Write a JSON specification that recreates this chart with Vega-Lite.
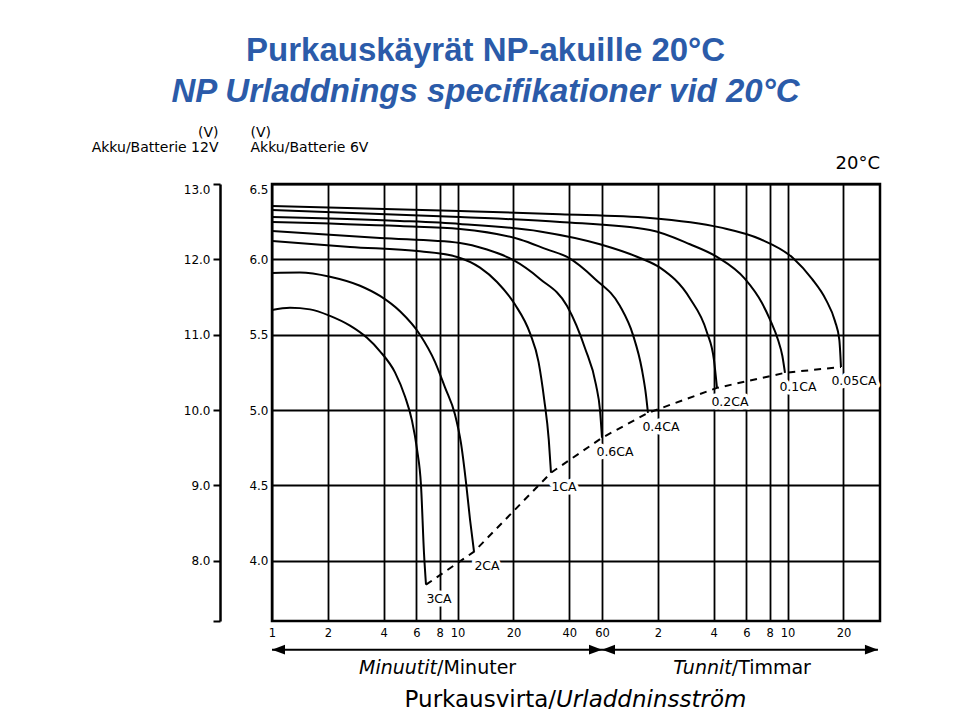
{
  "$schema": "https://vega.github.io/schema/vega-lite/v6.json",
  "width": 608,
  "height": 437,
  "autosize": {"type": "none"},
  "padding": {"left": 272, "top": 184, "right": 87, "bottom": 102},
  "background": "white",
  "title": {
    "text": "Purkauskäyrät NP-akuille 20°C",
    "subtitle": "NP Urladdnings specifikationer vid 20°C",
    "anchor": "middle",
    "frame": "bounds",
    "font": "Liberation Sans",
    "fontSize": 33,
    "fontWeight": "bold",
    "color": "#2b5ba9",
    "subtitleFont": "Liberation Sans",
    "subtitleFontSize": 33,
    "subtitleFontWeight": "bold",
    "subtitleFontStyle": "italic",
    "subtitleColor": "#2b5ba9",
    "subtitlePadding": 8,
    "offset": 16
  },
  "datasets": {
    "curves": [
      {"curve": "0.05CA", "t": 1, "v": 6.354}, {"curve": "0.05CA", "t": 10.3, "v": 6.321}, {"curve": "0.05CA", "t": 35.6, "v": 6.3}, {"curve": "0.05CA", "t": 108.8, "v": 6.275}, {"curve": "0.05CA", "t": 259.3, "v": 6.212}, {"curve": "0.05CA", "t": 425.9, "v": 6.135}, {"curve": "0.05CA", "t": 641.4, "v": 6.009}, {"curve": "0.05CA", "t": 811.9, "v": 5.87}, {"curve": "0.05CA", "t": 965.9, "v": 5.731}, {"curve": "0.05CA", "t": 1080, "v": 5.59}, {"curve": "0.05CA", "t": 1140, "v": 5.466}, {"curve": "0.05CA", "t": 1163.4, "v": 5.286},
      {"curve": "0.1CA", "t": 1, "v": 6.328}, {"curve": "0.1CA", "t": 10.3, "v": 6.281}, {"curve": "0.1CA", "t": 35.6, "v": 6.248}, {"curve": "0.1CA", "t": 108.8, "v": 6.195}, {"curve": "0.1CA", "t": 178.7, "v": 6.1}, {"curve": "0.1CA", "t": 249.8, "v": 6.016}, {"curve": "0.1CA", "t": 353.6, "v": 5.87}, {"curve": "0.1CA", "t": 436.7, "v": 5.71}, {"curve": "0.1CA", "t": 482.3, "v": 5.6}, {"curve": "0.1CA", "t": 532.5, "v": 5.466}, {"curve": "0.1CA", "t": 562, "v": 5.36}, {"curve": "0.1CA", "t": 580.7, "v": 5.247},
      {"curve": "0.2CA", "t": 1, "v": 6.281}, {"curve": "0.2CA", "t": 4.894, "v": 6.255}, {"curve": "0.2CA", "t": 10.3, "v": 6.235}, {"curve": "0.2CA", "t": 27.8, "v": 6.185}, {"curve": "0.2CA", "t": 58.5, "v": 6.1}, {"curve": "0.2CA", "t": 96.1, "v": 6.009}, {"curve": "0.2CA", "t": 123.2, "v": 5.945}, {"curve": "0.2CA", "t": 178.7, "v": 5.74}, {"curve": "0.2CA", "t": 220, "v": 5.52}, {"curve": "0.2CA", "t": 240.6, "v": 5.333}, {"curve": "0.2CA", "t": 249.8, "v": 5.147},
      {"curve": "0.4CA", "t": 1, "v": 6.248}, {"curve": "0.4CA", "t": 4.894, "v": 6.221}, {"curve": "0.4CA", "t": 10.3, "v": 6.202}, {"curve": "0.4CA", "t": 21.7, "v": 6.132}, {"curve": "0.4CA", "t": 30.3, "v": 6.066}, {"curve": "0.4CA", "t": 38.9, "v": 6.016}, {"curve": "0.4CA", "t": 55.0, "v": 5.87}, {"curve": "0.4CA", "t": 75.0, "v": 5.69}, {"curve": "0.4CA", "t": 88.1, "v": 5.499}, {"curve": "0.4CA", "t": 98.5, "v": 5.267}, {"curve": "0.4CA", "t": 103.5, "v": 5.101}, {"curve": "0.4CA", "t": 106.1, "v": 4.981},
      {"curve": "0.6CA", "t": 1, "v": 6.188}, {"curve": "0.6CA", "t": 3.818, "v": 6.142}, {"curve": "0.6CA", "t": 10.3, "v": 6.109}, {"curve": "0.6CA", "t": 14.4, "v": 6.065}, {"curve": "0.6CA", "t": 19.9, "v": 5.996}, {"curve": "0.6CA", "t": 27.8, "v": 5.87}, {"curve": "0.6CA", "t": 38.9, "v": 5.69}, {"curve": "0.6CA", "t": 48.6, "v": 5.41}, {"curve": "0.6CA", "t": 55.7, "v": 5.167}, {"curve": "0.6CA", "t": 58.5, "v": 5.001}, {"curve": "0.6CA", "t": 60, "v": 4.816},
      {"curve": "1CA", "t": 1, "v": 6.122}, {"curve": "1CA", "t": 2.633, "v": 6.082}, {"curve": "1CA", "t": 6.272, "v": 6.053}, {"curve": "1CA", "t": 9.93, "v": 6.016}, {"curve": "1CA", "t": 13.21, "v": 5.945}, {"curve": "1CA", "t": 16.31, "v": 5.85}, {"curve": "1CA", "t": 20.39, "v": 5.7}, {"curve": "1CA", "t": 24.55, "v": 5.51}, {"curve": "1CA", "t": 27.3, "v": 5.32}, {"curve": "1CA", "t": 29.3, "v": 5.068}, {"curve": "1CA", "t": 31.0, "v": 4.802}, {"curve": "1CA", "t": 31.86, "v": 4.584},
      {"curve": "2CA", "t": 1, "v": 5.91}, {"curve": "2CA", "t": 1.415, "v": 5.913}, {"curve": "2CA", "t": 2.053, "v": 5.885}, {"curve": "2CA", "t": 2.98, "v": 5.825}, {"curve": "2CA", "t": 3.818, "v": 5.757}, {"curve": "2CA", "t": 4.894, "v": 5.655}, {"curve": "2CA", "t": 6.272, "v": 5.5}, {"curve": "2CA", "t": 7.553, "v": 5.32}, {"curve": "2CA", "t": 8.553, "v": 5.15}, {"curve": "2CA", "t": 9.683, "v": 4.97}, {"curve": "2CA", "t": 10.43, "v": 4.78}, {"curve": "2CA", "t": 11.1, "v": 4.52}, {"curve": "2CA", "t": 11.67, "v": 4.272}, {"curve": "2CA", "t": 12.26, "v": 4.06},
      {"curve": "3CA", "t": 1, "v": 5.664}, {"curve": "3CA", "t": 1.25, "v": 5.678}, {"curve": "3CA", "t": 1.602, "v": 5.668}, {"curve": "3CA", "t": 2.053, "v": 5.625}, {"curve": "3CA", "t": 2.633, "v": 5.56}, {"curve": "3CA", "t": 3.25, "v": 5.479}, {"curve": "3CA", "t": 3.818, "v": 5.39}, {"curve": "3CA", "t": 4.599, "v": 5.25}, {"curve": "3CA", "t": 5.207, "v": 5.09}, {"curve": "3CA", "t": 5.679, "v": 4.93}, {"curve": "3CA", "t": 6.043, "v": 4.74}, {"curve": "3CA", "t": 6.351, "v": 4.5}, {"curve": "3CA", "t": 6.592, "v": 4.05}, {"curve": "3CA", "t": 6.757, "v": 3.841}
    ],
    "arrows": [
      {"span": "minutes", "t": 1, "t_end": 60, "v": 3.41},
      {"span": "hours", "t": 60, "t_end": 1840, "v": 3.41}
    ]
  },
  "encoding": {
    "x": {
      "field": "t",
      "type": "quantitative",
      "scale": {"type": "log", "domain": [1, 1888], "nice": false},
      "axis": {
        "values": [1, 2, 4, 6, 8, 10, 20, 40, 60, 120, 240, 360, 480, 600, 1200],
        "labelExpr": "datum.value > 60 ? format(datum.value / 60, 'd') : format(datum.value, 'd')",
        "grid": true,
        "gridColor": "black",
        "gridWidth": 1.8,
        "gridOpacity": 1,
        "ticks": false,
        "domain": false,
        "labelPadding": 6,
        "labelFontSize": 11.5,
        "labelColor": "black",
        "labelFlush": false,
        "title": null
      }
    }
  },
  "layer": [
    {
      "data": {"name": "curves"},
      "mark": {"type": "line", "interpolate": "monotone", "color": "black", "strokeWidth": 2},
      "encoding": {
        "y": {
          "field": "v",
          "type": "quantitative",
          "scale": {"domain": [3.6, 6.5], "zero": false, "nice": false},
          "axis": {
            "values": [4, 4.5, 5, 5.5, 6, 6.5],
            "format": ".1f",
            "grid": true,
            "gridColor": "black",
            "gridWidth": 1.8,
            "gridOpacity": 1,
            "ticks": false,
            "domain": false,
            "labelPadding": 4,
            "labelFontSize": 12,
            "labelColor": "black",
            "labelFlush": true,
            "title": ["(V)", "Akku/Batterie 6V"],
            "titleAngle": 0,
            "titleAlign": "left",
            "titleBaseline": "alphabetic",
            "titleX": -22,
            "titleY": -48,
            "titleFontSize": 14,
            "titleFontWeight": "normal",
            "titleLineHeight": 15,
            "titleColor": "black"
          }
        },
        "detail": {"field": "curve"}
      }
    },
    {
      "data": {"name": "curves"},
      "transform": [
        {"joinaggregate": [{"op": "max", "field": "t", "as": "tmax"}], "groupby": ["curve"]},
        {"filter": "datum.t == datum.tmax"}
      ],
      "mark": {"type": "line", "color": "black", "strokeWidth": 2, "strokeDash": [7, 6]},
      "encoding": {
        "y": {
          "field": "v",
          "type": "quantitative",
          "axis": {
            "orient": "left",
            "offset": 52,
            "values": [3.6, 4, 4.5, 5, 5.5, 6, 6.5],
            "labelExpr": "datum.value < 3.7 ? '' : format(datum.value * 2, '.1f')",
            "grid": false,
            "ticks": true,
            "tickSize": 7,
            "tickWidth": 2,
            "tickColor": "black",
            "domain": true,
            "domainColor": "black",
            "domainWidth": 2.5,
            "labelPadding": 3,
            "labelFontSize": 12,
            "labelColor": "black",
            "labelFlush": true,
            "title": ["(V)", "Akku/Batterie 12V"],
            "titleAngle": 0,
            "titleAlign": "right",
            "titleBaseline": "alphabetic",
            "titleX": -2,
            "titleY": -48,
            "titleFontSize": 14,
            "titleFontWeight": "normal",
            "titleLineHeight": 15,
            "titleColor": "black"
          }
        }
      }
    },
    {
      "data": {"name": "curves"},
      "transform": [
        {"joinaggregate": [{"op": "max", "field": "t", "as": "tmax"}], "groupby": ["curve"]},
        {"filter": "datum.t == datum.tmax"}
      ],
      "mark": {"type": "text", "fontSize": 12.5, "align": "center", "baseline": "middle", "dx": 13, "dy": 14, "fill": "white", "stroke": "white", "strokeWidth": 7, "strokeJoin": "round"},
      "encoding": {
        "y": {"field": "v", "type": "quantitative", "axis": null},
        "text": {"field": "curve"}
      }
    },
    {
      "data": {"name": "curves"},
      "transform": [
        {"joinaggregate": [{"op": "max", "field": "t", "as": "tmax"}], "groupby": ["curve"]},
        {"filter": "datum.t == datum.tmax"}
      ],
      "mark": {"type": "text", "fontSize": 12.5, "align": "center", "baseline": "middle", "dx": 13, "dy": 14, "color": "black"},
      "encoding": {
        "y": {"field": "v", "type": "quantitative", "axis": null},
        "text": {"field": "curve"}
      }
    },
    {
      "data": {"name": "arrows"},
      "mark": {"type": "rule", "color": "black", "strokeWidth": 2},
      "encoding": {
        "x2": {"field": "t_end"},
        "y": {"field": "v", "type": "quantitative", "axis": null}
      }
    },
    {
      "data": {"name": "arrows"},
      "transform": [{"fold": ["t", "t_end"], "as": ["end", "t"]}],
      "mark": {"type": "point", "filled": true, "color": "black", "opacity": 1, "size": 169},
      "encoding": {
        "y": {"field": "v", "type": "quantitative", "axis": null},
        "shape": {
          "field": "end",
          "type": "nominal",
          "scale": {"domain": ["t", "t_end"], "range": ["M0,0L2,-0.75L2,0.75Z", "M0,0L-2,-0.75L-2,0.75Z"]},
          "legend": null
        }
      }
    },
    {
      "data": {"values": [{"text": "Minuutit", "t": 7.75, "v": 3.251}, {"text": "Tunnit", "t": 300, "v": 3.251}]},
      "mark": {"type": "text", "fontSize": 19, "fontStyle": "italic", "align": "right", "baseline": "alphabetic", "color": "black"},
      "encoding": {
        "y": {"field": "v", "type": "quantitative", "axis": null},
        "text": {"field": "text"}
      }
    },
    {
      "data": {"values": [{"text": "/Minuter", "t": 7.75, "v": 3.251}, {"text": "/Timmar", "t": 300, "v": 3.251}]},
      "mark": {"type": "text", "fontSize": 19, "align": "left", "baseline": "alphabetic", "color": "black"},
      "encoding": {
        "y": {"field": "v", "type": "quantitative", "axis": null},
        "text": {"field": "text"}
      }
    },
    {
      "data": {"values": [{"text": "Purkausvirta/", "t": 33.9, "v": 3.032}]},
      "mark": {"type": "text", "fontSize": 23, "align": "right", "baseline": "alphabetic", "color": "black"},
      "encoding": {
        "y": {"field": "v", "type": "quantitative", "axis": null},
        "text": {"field": "text"}
      }
    },
    {
      "data": {"values": [{"text": "Urladdninsström", "t": 33.9, "v": 3.032}]},
      "mark": {"type": "text", "fontSize": 23, "fontStyle": "italic", "align": "left", "baseline": "alphabetic", "color": "black"},
      "encoding": {
        "y": {"field": "v", "type": "quantitative", "axis": null},
        "text": {"field": "text"}
      }
    },
    {
      "data": {"values": [{"text": "20°C", "t": 1888, "v": 6.599}]},
      "mark": {"type": "text", "fontSize": 18, "align": "right", "baseline": "alphabetic", "color": "black"},
      "encoding": {
        "y": {"field": "v", "type": "quantitative", "axis": null},
        "text": {"field": "text"}
      }
    }
  ],
  "resolve": {"axis": {"y": "independent"}},
  "config": {
    "font": "DejaVu Sans",
    "view": {"stroke": "black", "strokeWidth": 2.5},
    "axis": {"labelFont": "DejaVu Sans", "titleFont": "DejaVu Sans"}
  }
}
